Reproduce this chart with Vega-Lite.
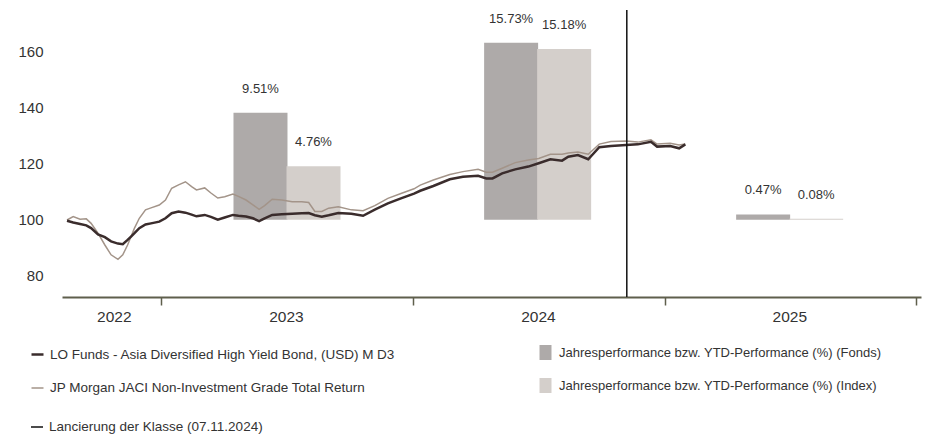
{
  "$schema": "https://vega.github.io/schema/vega-lite/v6.json",
  "width": 859,
  "height": 287,
  "autosize": {"type": "none"},
  "padding": {"left": 62, "top": 10, "right": 6, "bottom": 138},
  "config": {
    "font": "Liberation Sans",
    "view": {"stroke": null},
    "axis": {"labelColor": "#333333", "labelFont": "Liberation Sans"},
    "legend": {"labelFont": "Liberation Sans", "labelColor": "#333333", "labelFontSize": 13, "padding": 0, "labelLimit": 600}
  },
  "datasets": {
    "lines": [
      {"t": "2022-08-17", "fund": 99.6, "index": 99.9},
      {"t": "2022-08-26", "fund": 99.0, "index": 101.1},
      {"t": "2022-09-05", "fund": 98.5, "index": 100.2},
      {"t": "2022-09-14", "fund": 98.0, "index": 100.3},
      {"t": "2022-09-21", "fund": 97.0, "index": 98.7},
      {"t": "2022-10-01", "fund": 94.8, "index": 95.2},
      {"t": "2022-10-11", "fund": 93.8, "index": 91.0},
      {"t": "2022-10-20", "fund": 92.3, "index": 87.5},
      {"t": "2022-10-30", "fund": 91.5, "index": 85.9},
      {"t": "2022-11-06", "fund": 91.3, "index": 87.5},
      {"t": "2022-11-13", "fund": 92.8, "index": 91.0},
      {"t": "2022-11-18", "fund": 94.0, "index": 94.0},
      {"t": "2022-11-23", "fund": 95.2, "index": 97.0},
      {"t": "2022-11-30", "fund": 97.0, "index": 100.5},
      {"t": "2022-12-09", "fund": 98.3, "index": 103.5},
      {"t": "2022-12-17", "fund": 98.7, "index": 104.2},
      {"t": "2022-12-29", "fund": 99.3, "index": 105.2},
      {"t": "2023-01-07", "fund": 100.5, "index": 107.0},
      {"t": "2023-01-16", "fund": 102.3, "index": 111.2},
      {"t": "2023-01-26", "fund": 102.9, "index": 112.4},
      {"t": "2023-02-05", "fund": 102.5, "index": 113.5},
      {"t": "2023-02-14", "fund": 101.8, "index": 111.8},
      {"t": "2023-02-21", "fund": 101.2, "index": 110.6},
      {"t": "2023-03-05", "fund": 101.7, "index": 111.3},
      {"t": "2023-03-14", "fund": 101.0, "index": 109.5},
      {"t": "2023-03-24", "fund": 100.0, "index": 107.7},
      {"t": "2023-04-03", "fund": 100.8, "index": 108.2},
      {"t": "2023-04-15", "fund": 101.7, "index": 109.1},
      {"t": "2023-04-23", "fund": 101.4, "index": 108.3},
      {"t": "2023-05-04", "fund": 101.1, "index": 107.0},
      {"t": "2023-05-14", "fund": 100.5, "index": 105.3},
      {"t": "2023-05-23", "fund": 99.5, "index": 103.7},
      {"t": "2023-05-31", "fund": 100.5, "index": 105.0},
      {"t": "2023-06-11", "fund": 101.7, "index": 107.3},
      {"t": "2023-06-25", "fund": 101.9, "index": 107.0},
      {"t": "2023-07-10", "fund": 102.1, "index": 106.4},
      {"t": "2023-07-24", "fund": 102.3, "index": 106.4},
      {"t": "2023-08-03", "fund": 102.4, "index": 106.1},
      {"t": "2023-08-12", "fund": 101.6, "index": 102.9},
      {"t": "2023-08-22", "fund": 101.1, "index": 102.9},
      {"t": "2023-09-01", "fund": 101.6, "index": 104.1},
      {"t": "2023-09-15", "fund": 102.4, "index": 104.6},
      {"t": "2023-10-04", "fund": 102.1, "index": 103.5},
      {"t": "2023-10-21", "fund": 101.4, "index": 103.2},
      {"t": "2023-11-07", "fund": 103.6, "index": 105.0},
      {"t": "2023-11-26", "fund": 105.8, "index": 107.6},
      {"t": "2023-12-15", "fund": 107.6, "index": 109.3},
      {"t": "2024-01-03", "fund": 109.3, "index": 111.0},
      {"t": "2024-01-12", "fund": 110.3, "index": 112.3},
      {"t": "2024-01-31", "fund": 112.0, "index": 114.1},
      {"t": "2024-02-24", "fund": 114.4, "index": 116.1},
      {"t": "2024-03-14", "fund": 115.3, "index": 117.1},
      {"t": "2024-04-05", "fund": 115.6, "index": 117.9},
      {"t": "2024-04-17", "fund": 114.7, "index": 116.9},
      {"t": "2024-04-26", "fund": 114.7, "index": 116.9},
      {"t": "2024-05-10", "fund": 116.5, "index": 118.3},
      {"t": "2024-05-29", "fund": 117.9, "index": 120.3},
      {"t": "2024-06-17", "fund": 118.9, "index": 121.2},
      {"t": "2024-07-02", "fund": 120.1, "index": 121.8},
      {"t": "2024-07-19", "fund": 121.5, "index": 123.3},
      {"t": "2024-08-05", "fund": 121.0, "index": 123.3},
      {"t": "2024-08-14", "fund": 122.4, "index": 123.7},
      {"t": "2024-08-28", "fund": 123.0, "index": 124.1},
      {"t": "2024-09-12", "fund": 121.5, "index": 123.3},
      {"t": "2024-09-28", "fund": 125.8, "index": 126.9},
      {"t": "2024-10-15", "fund": 126.2, "index": 127.8},
      {"t": "2024-11-06", "fund": 126.6, "index": 128.0},
      {"t": "2024-11-23", "fund": 126.8, "index": 127.6},
      {"t": "2024-12-12", "fund": 127.7, "index": 128.4},
      {"t": "2024-12-21", "fund": 126.0, "index": 126.9},
      {"t": "2025-01-09", "fund": 126.2, "index": 127.2},
      {"t": "2025-01-22", "fund": 125.4, "index": 126.6},
      {"t": "2025-01-31", "fund": 126.8, "index": 126.9}
    ],
    "bars": [
      {"t": "2023-05-25", "series": "Jahresperformance bzw. YTD-Performance (%) (Fonds)", "pct": 0.0951},
      {"t": "2023-08-10", "series": "Jahresperformance bzw. YTD-Performance (%) (Index)", "pct": 0.0476},
      {"t": "2024-05-23", "series": "Jahresperformance bzw. YTD-Performance (%) (Fonds)", "pct": 0.1573},
      {"t": "2024-08-08", "series": "Jahresperformance bzw. YTD-Performance (%) (Index)", "pct": 0.1518},
      {"t": "2025-05-24", "series": "Jahresperformance bzw. YTD-Performance (%) (Fonds)", "pct": 0.0047},
      {"t": "2025-08-09", "series": "Jahresperformance bzw. YTD-Performance (%) (Index)", "pct": 0.0008}
    ],
    "launch": [
      {"t": "2024-11-07", "label": "Lancierung der Klasse (07.11.2024)"}
    ]
  },
  "resolve": {
    "scale": {"y": "independent"},
    "axis": {"x": "independent", "y": "independent"}
  },
  "layer": [
    {
      "data": {"name": "bars"},
      "mark": {"type": "bar", "width": 54},
      "encoding": {
        "x": {
          "field": "t", "type": "temporal",
          "scale": {"type": "utc", "domain": [{"year": 2022, "month": 8, "date": 17, "utc": true}, {"year": 2026, "month": 1, "date": 1, "utc": true}]},
          "axis": {
            "orient": "bottom", "title": null, "labels": false, "grid": false,
            "values": [{"year": 2023, "month": 1, "date": 1, "utc": true}, {"year": 2024, "month": 1, "date": 1, "utc": true}, {"year": 2025, "month": 1, "date": 1, "utc": true}, {"year": 2026, "month": 1, "date": 1, "utc": true}],
            "domainColor": "#5f5f4c", "domainWidth": 2, "tickColor": "#5f5f4c", "tickWidth": 1.5, "tickSize": 8
          }
        },
        "y": {
          "field": "pct", "type": "quantitative",
          "scale": {"domain": [-0.06875, 0.1865], "nice": false},
          "axis": null
        },
        "fill": {
          "field": "series", "type": "nominal",
          "scale": {"domain": ["Jahresperformance bzw. YTD-Performance (%) (Fonds)", "Jahresperformance bzw. YTD-Performance (%) (Index)"], "range": ["#aeaaa9", "#d4cfcb"]},
          "legend": {
            "orient": "none", "legendX": 476, "legendY": 335, "title": null,
            "symbolType": "M-0.8,-1H0.8V1H-0.8Z", "symbolSize": 225, "symbolStrokeWidth": 0,
            "labelOffset": 6, "rowPadding": 18
          }
        }
      }
    },
    {
      "data": {"name": "bars"},
      "mark": {"type": "text", "dy": -24, "fontSize": 13, "color": "#333333", "baseline": "middle"},
      "encoding": {
        "x": {"field": "t", "type": "temporal", "axis": null},
        "y": {
          "field": "pct", "type": "quantitative",
          "scale": {"domain": [-0.06875, 0.1865], "nice": false},
          "axis": null
        },
        "text": {"field": "pct", "type": "quantitative", "format": ".2%"}
      }
    },
    {
      "data": {"name": "lines"},
      "transform": [{"fold": ["index", "fund"], "as": ["series", "value"]}],
      "mark": {"type": "line", "interpolate": "linear"},
      "encoding": {
        "x": {
          "field": "t", "type": "temporal",
          "axis": {
            "orient": "bottom", "title": null, "ticks": false, "domain": false, "grid": false,
            "values": [{"year": 2022, "month": 10, "date": 24, "utc": true}, {"year": 2023, "month": 7, "date": 1, "utc": true}, {"year": 2024, "month": 7, "date": 1, "utc": true}, {"year": 2025, "month": 7, "date": 1, "utc": true}],
            "labelExpr": "utcFormat(datum.value, '%Y')", "labelFontSize": 15.5, "labelPadding": 12, "labelColor": "#333333"
          }
        },
        "y": {
          "field": "value", "type": "quantitative",
          "scale": {"domain": [72.5, 174.6], "nice": false, "zero": false},
          "axis": {
            "title": null, "values": [80, 100, 120, 140, 160], "ticks": false, "domain": false,
            "labelFontSize": 15, "labelPadding": 19, "gridColor": "#c8c8c8", "gridWidth": 1.2
          }
        },
        "stroke": {
          "field": "series", "type": "nominal",
          "scale": {"domain": ["fund", "index"], "range": ["#3a2c2c", "#a39489"]},
          "legend": {
            "orient": "none", "legendX": -32, "legendY": 337, "title": null,
            "symbolType": "stroke", "symbolSize": 144, "labelOffset": 5, "rowPadding": 20, "labelFontSize": 13.5,
            "labelExpr": "datum.label == 'fund' ? 'LO Funds - Asia Diversified High Yield Bond, (USD) M D3' : 'JP Morgan JACI Non-Investment Grade Total Return'"
          }
        },
        "strokeWidth": {
          "field": "series", "type": "nominal",
          "scale": {"domain": ["fund", "index"], "range": [2.5, 1.5]},
          "legend": {
            "orient": "none", "legendX": -32, "legendY": 337, "title": null,
            "symbolType": "stroke", "symbolSize": 144, "labelOffset": 5, "rowPadding": 20, "labelFontSize": 13.5,
            "labelExpr": "datum.label == 'fund' ? 'LO Funds - Asia Diversified High Yield Bond, (USD) M D3' : 'JP Morgan JACI Non-Investment Grade Total Return'"
          }
        }
      }
    },
    {
      "data": {"name": "launch"},
      "mark": {"type": "rule", "color": "#111111", "strokeWidth": 1.5},
      "encoding": {
        "x": {"field": "t", "type": "temporal", "axis": null},
        "strokeDash": {
          "field": "label", "type": "nominal",
          "scale": {"range": [[1, 0]]},
          "legend": {
            "orient": "none", "legendX": -32, "legendY": 410, "title": null, "labelFontSize": 13.5,
            "symbolType": "stroke", "symbolSize": 144, "symbolStrokeColor": "#111111", "symbolStrokeWidth": 1.5, "labelOffset": 5
          }
        }
      }
    }
  ]
}
